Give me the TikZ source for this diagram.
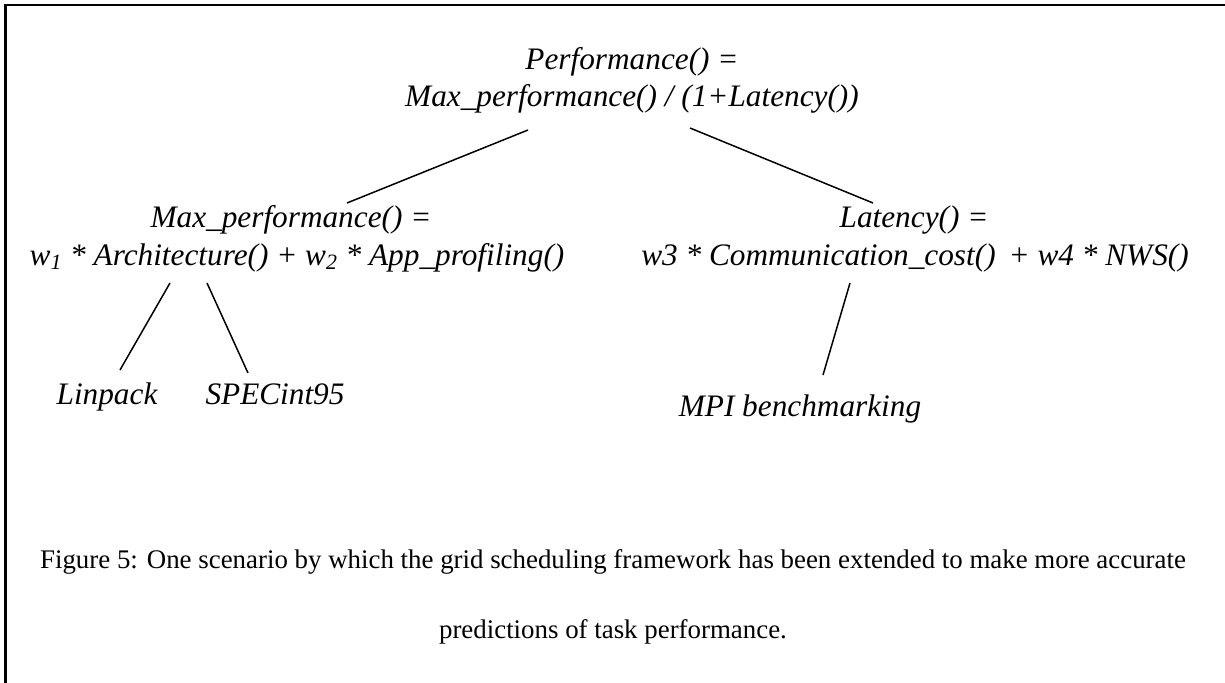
\documentclass[tikz,border=0pt]{standalone}
\usepackage{fontspec}
\setmainfont{Liberation Serif}
\begin{document}
\begin{tikzpicture}[x=0.02cm,y=-0.02cm,
  eq/.style={font=\fontsize{17.8}{21}\selectfont\itshape, inner sep=0pt, anchor=base},
  captext/.style={font=\fontsize{15.3}{18}\selectfont, inner sep=0pt, anchor=base},
  link/.style={line width=0.85pt},
  frameline/.style={line width=1.2pt}]
\useasboundingbox (0,0) rectangle (1225,683);
% frame edges
\draw[frameline] (5.5,683) -- (5.5,5) -- (1225,5);

% root formula
\node[eq] (perfA) at (632,69) {Performance() =};
\node[eq] (perfB) at (632,106) {Max\_performance() / (1+Latency())};

% second level
\node[eq] (maxA) at (291,227) {Max\_performance() =};
\node[eq] (maxB) at (297,265) {w\textsubscript{1} * Architecture() + w\textsubscript{2} * App\_profiling()};
\node[eq] (latA) at (914,227) {Latency() =};
\node[eq] (latB) at (915,265) {w3 * Communication\_cost()\, + w4 * NWS()};

% leaves
\node[eq] (lin) at (107,404) {Linpack};
\node[eq] (spec) at (275,404) {SPECint95};
\node[eq] (mpi) at (800,416) {MPI benchmarking};

% connector end points
\coordinate (rootL) at (528,130);
\coordinate (rootR) at (690,128);
\coordinate (maxTop) at (347,203);
\coordinate (latTop) at (873,203);
\coordinate (archL) at (170,283);
\coordinate (archR) at (207,283);
\coordinate (linTop) at (120,370);
\coordinate (specTop) at (248,373);
\coordinate (commBot) at (850,283);
\coordinate (mpiTop) at (823,375);

\draw[link] (rootL) -- (maxTop);
\draw[link] (rootR) -- (latTop);
\draw[link] (archL) -- (linTop);
\draw[link] (archR) -- (specTop);
\draw[link] (commBot) -- (mpiTop);

% caption
\node[captext] (cap1) at (613,568) {Figure 5: One scenario by which the grid scheduling framework has been extended to make more accurate};
\node[captext] (cap2) at (613,638) {predictions of task performance.};
\end{tikzpicture}
\end{document}
